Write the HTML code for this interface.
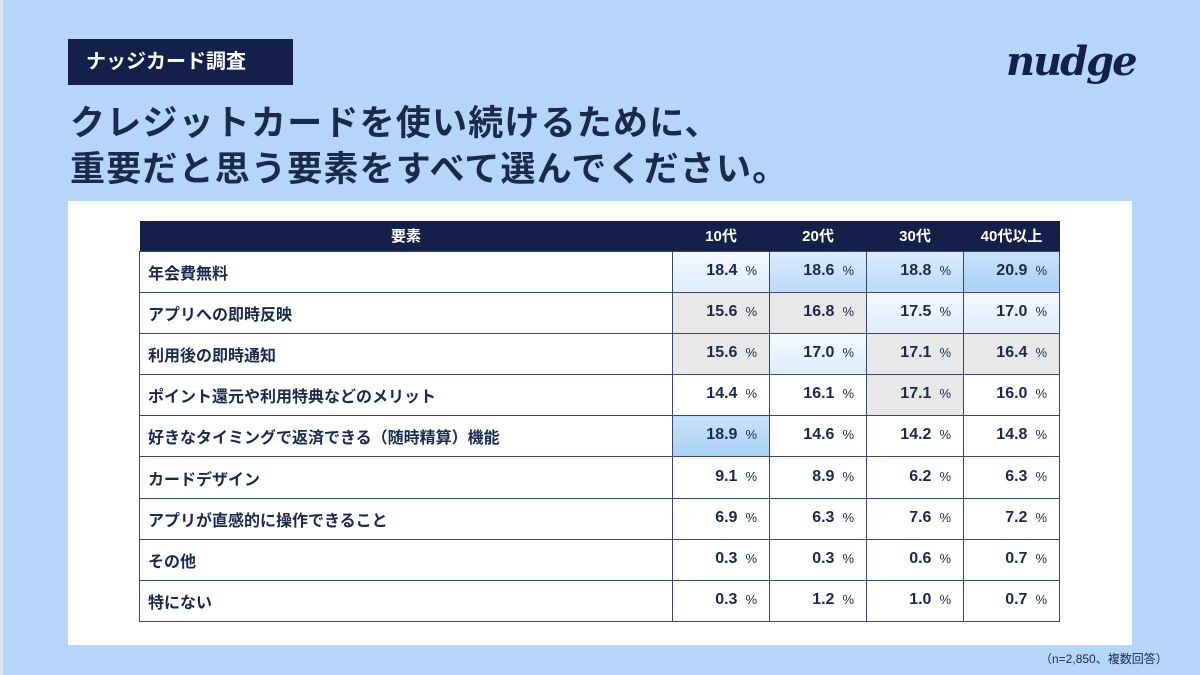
<!DOCTYPE html>
<html><head><meta charset="utf-8">
<style>
*{margin:0;padding:0;box-sizing:border-box}
body{width:1200px;height:675px;background:#b5d6f8;font-family:"Liberation Sans","Noto Sans CJK JP",sans-serif;position:relative;overflow:hidden;color:#1a2a4f}
#strip{position:absolute;left:0;top:0;width:3px;height:675px;background:#dde8f4}
#badge{position:absolute;left:68px;top:39px;width:225px;height:46px;background:#14204a;color:#fff;font-size:20px;font-weight:bold;line-height:46px;padding-left:18px}
.title{position:absolute;left:70px;font-size:35px;font-weight:bold;color:#1a2a4f;letter-spacing:1.2px;white-space:nowrap}
#logo{position:absolute;left:1006px;top:38px;font-family:"DejaVu Serif",serif;font-style:italic;font-weight:bold;font-size:40px;color:#14204a;letter-spacing:-2px}
#panel{position:absolute;left:68px;top:201px;width:1064px;height:444px;background:#fff}
table{position:absolute;left:139px;top:221px;width:920px;border-collapse:collapse;table-layout:fixed;font-size:16px;font-weight:bold;color:#1a2a4f}
th{background:#14204a;color:#fff;height:30px;font-size:15px;text-align:center}
td{height:41.2px;border:1.5px solid #3a4668}
td.lbl{padding-left:8px}
td.v{text-align:right;padding-right:12px;padding-bottom:2px}
td.v span{font-size:13px;font-weight:normal;margin-left:8px}
.t3{background:linear-gradient(#c9e2fa,#a9d0f5)}
.t2{background:linear-gradient(#dbebfc,#bcdaf8)}
.t1{background:linear-gradient(#f4f9ff,#deecfc)}
.g{background:#e8e8e8}
#note{position:absolute;left:1040px;top:650px;font-size:12px;color:#1a2a4f}
</style></head><body>
<div id="strip"></div>
<div id="badge">ナッジカード調査</div>
<div class="title" style="top:95px">クレジットカードを使い続けるために、</div>
<div class="title" style="top:141px">重要だと思う要素をすべて選んでください。</div>
<div id="logo">nudge</div>
<div id="panel"></div>
<table id="tbl"><colgroup><col style="width:533px"><col style="width:97px"><col style="width:97px"><col style="width:97px"><col style="width:96px"></colgroup><thead><tr id="hdr"></tr></thead><tbody id="body"></tbody></table>
<div id="note">（n=2,850、複数回答）</div>
<script>
const columns=["要素","10代","20代","30代","40代以上"];
const categories=["年会費無料","アプリへの即時反映","利用後の即時通知","ポイント還元や利用特典などのメリット","好きなタイミングで返済できる（随時精算）機能","カードデザイン","アプリが直感的に操作できること","その他","特にない"];
const teens=[18.4,15.6,15.6,14.4,18.9,9.1,6.9,0.3,0.3];
const twenties=[18.6,16.8,17.0,16.1,14.6,8.9,6.3,0.3,1.2];
const thirties=[18.8,17.5,17.1,17.1,14.2,6.2,7.6,0.6,1.0];
const forties=[20.9,17.0,16.4,16.0,14.8,6.3,7.2,0.7,0.7];
const tones=[["t1","t2","t2","t3"],["g","g","t1","t1"],["g","t1","g","g"],["","","g",""],["t3","","",""],["","","",""],["","","",""],["","","",""],["","","",""]];
const series=[teens,twenties,thirties,forties];
const hdr=document.getElementById('hdr');
columns.forEach((c,i)=>{const th=document.createElement('th');th.textContent=c;


hdr.appendChild(th);});
const body=document.getElementById('body');
categories.forEach((cat,r)=>{const tr=document.createElement('tr');


const l=document.createElement('td');l.className='lbl';l.textContent=cat;


tr.appendChild(l);
series.forEach((s,c)=>{const td=document.createElement('td');td.className='v '+(tones[r]?tones[r][c]:'');
td.innerHTML=s[r].toFixed(1)+'<span>%</span>';


tr.appendChild(td);});
body.appendChild(tr);});
</script>
</body></html>
